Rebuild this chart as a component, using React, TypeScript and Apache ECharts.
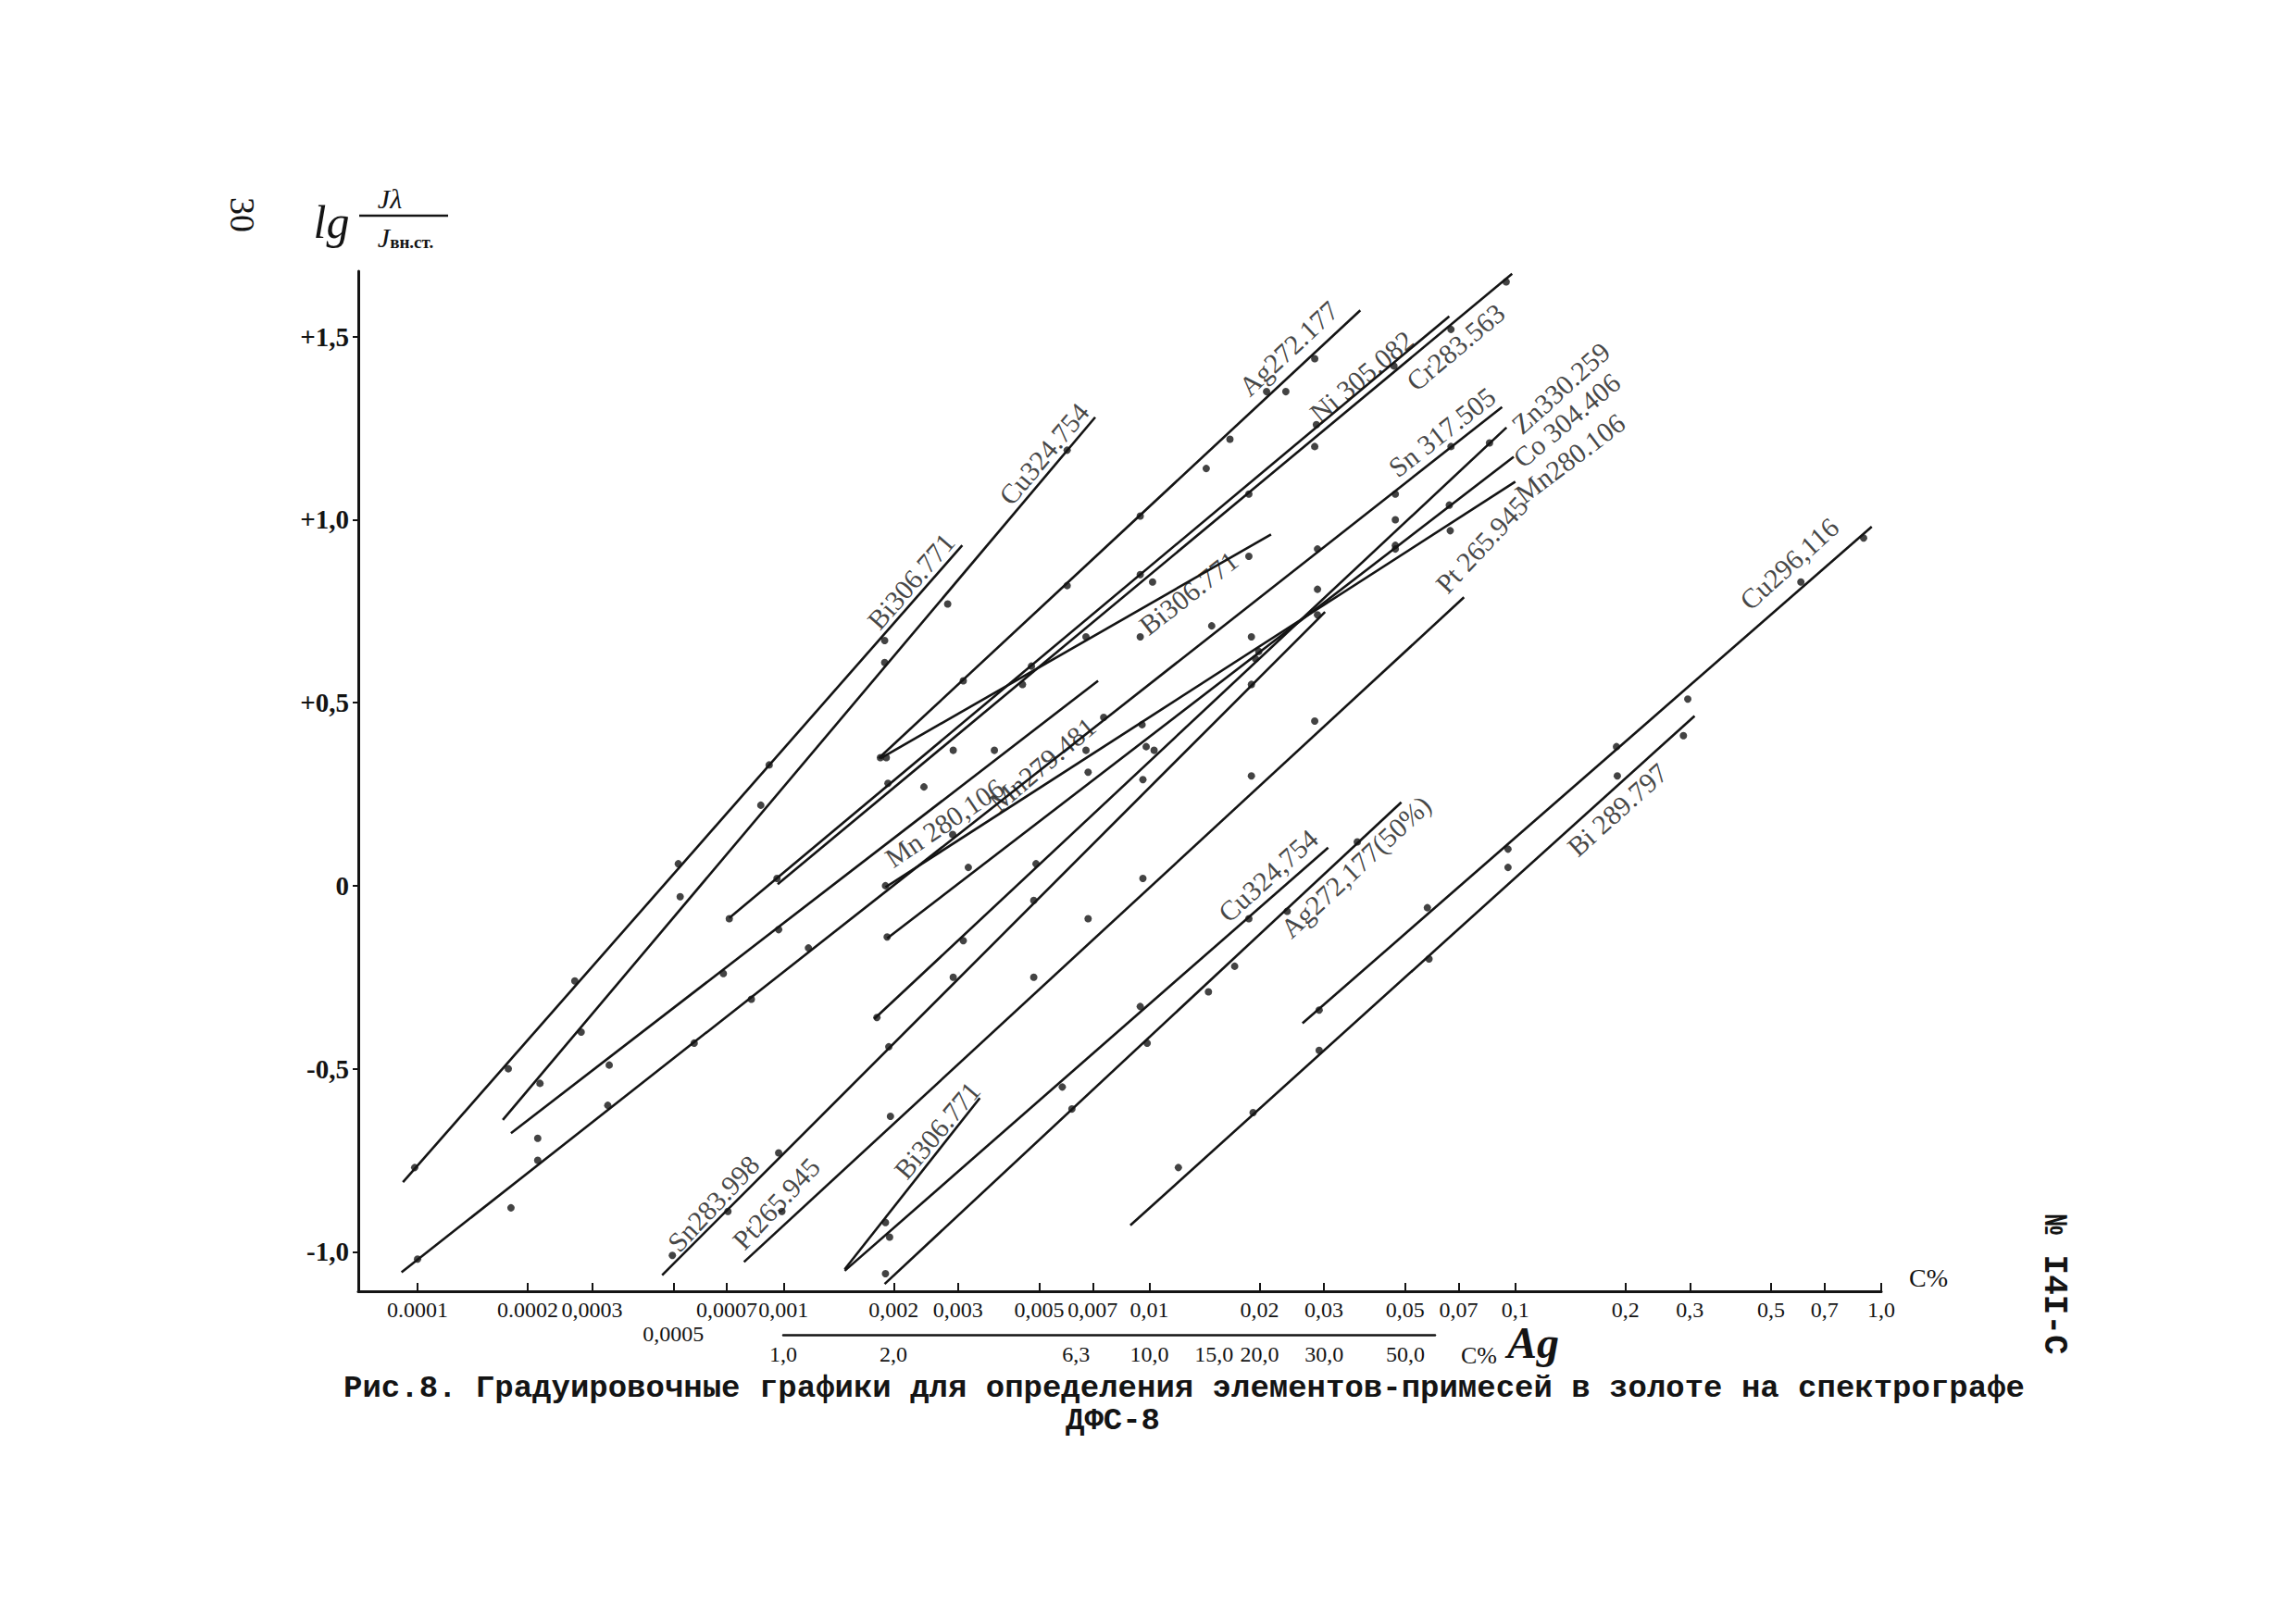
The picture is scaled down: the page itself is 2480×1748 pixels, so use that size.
import React, { useEffect, useRef } from "react";
import * as echarts from "echarts";

// ---- axes ----
const xTickValues = [0.0001, 0.0002, 0.0003, 0.0005, 0.0007, 0.001, 0.002, 0.003, 0.005, 0.007, 0.01, 0.02, 0.03, 0.05, 0.07, 0.1, 0.2, 0.3, 0.5, 0.7, 1.0];
const xTickLabels = ["0.0001", "0.0002", "0,0003", "0,0005", "0,0007", "0,001", "0,002", "0,003", "0,005", "0,007", "0,01", "0,02", "0,03", "0,05", "0,07", "0,1", "0,2", "0,3", "0,5", "0,7", "1,0"];
const yTickValues = [-1, -0.5, 0, 0.5, 1, 1.5];
const yTickLabels = ["-1,0", "-0,5", "0", "+0,5", "+1,0", "+1,5"];
const agTickValues = [1.0, 2.0, 6.3, 10.0, 15.0, 20.0, 30.0, 50.0];
const agTickLabels = ["1,0", "2,0", "6,3", "10,0", "15,0", "20,0", "30,0", "50,0"];

// ---- calibration lines: [C%, lg(Jλ/Jвн.ст.)] ----
const bi306TopLine = [[0.0000912, -0.81], [0.00308, 0.93]];
const bi306TopPoints = [[0.0000982, -0.77], [0.000177, -0.5], [0.000269, -0.26], [0.000516, 0.06], [0.000914, 0.33], [0.00189, 0.67]];
const cu324TopLine = [[0.000171, -0.64], [0.00711, 1.28]];
const cu324TopPoints = [[0.000216, -0.54], [0.00028, -0.4], [0.000867, 0.22], [0.00189, 0.61], [0.00281, 0.77], [0.00596, 1.19]];
const sn317Line = [[0.0000904, -1.056], [0.092, 1.308]];
const sn317Points = [[0.0001, -1.02], [0.000213, -0.75], [0.000331, -0.6], [0.00057, -0.43], [0.000817, -0.31], [0.00117, -0.17], [0.0029, 0.14], [0.0075, 0.46], [0.0148, 0.71], [0.0288, 0.92], [0.047, 1.07], [0.0667, 1.2]];
const mn279Line = [[0.00018, -0.676], [0.00724, 0.56]];
const mn279Points = [[0.000213, -0.69], [0.000334, -0.49], [0.000685, -0.24], [0.00097, -0.12], [0.00242, 0.27], [0.00377, 0.37]];
const ni305Line = [[0.000711, -0.088], [0.066, 1.556]];
const ni305Points = [[0.000711, -0.09], [0.00193, 0.28], [0.00476, 0.6], [0.00944, 0.85], [0.0187, 1.07], [0.0286, 1.26], [0.0466, 1.42]];
const cr283Line = [[0.000964, 0.004], [0.098, 1.672]];
const cr283Points = [[0.00096, 0.02], [0.00291, 0.37], [0.00671, 0.68], [0.0102, 0.83], [0.0667, 1.52], [0.0944, 1.65]];
const ag272Line = [[0.00182, 0.348], [0.0377, 1.572]];
const ag272Points = [[0.00191, 0.35], [0.0031, 0.56], [0.00596, 0.82], [0.00944, 1.01], [0.0143, 1.14], [0.0166, 1.22], [0.0209, 1.35], [0.0283, 1.44]];
const bi306MidLine = [[0.00184, 0.348], [0.0215, 0.96]];
const bi306MidPoints = [[0.00184, 0.35], [0.0045, 0.55], [0.00944, 0.68], [0.0187, 0.9]];
const mn280Line = [[0.0019, -0.004], [0.1, 1.104]];
const mn280Points = [[0.0019, 0.0], [0.00671, 0.37], [0.00955, 0.44], [0.019, 0.68], [0.0288, 0.74], [0.047, 0.92], [0.0664, 0.97]];
const co304Line = [[0.00192, -0.144], [0.099, 1.172]];
const co304Points = [[0.00192, -0.14], [0.0032, 0.05], [0.0068, 0.31], [0.0098, 0.38], [0.0195, 0.62], [0.047, 0.93], [0.066, 1.04]];
const zn330Line = [[0.00177, -0.364], [0.0946, 1.252]];
const zn330Points = [[0.0018, -0.36], [0.0031, -0.15], [0.0049, 0.06], [0.0103, 0.37], [0.0199, 0.64], [0.0288, 0.81], [0.047, 1.0], [0.085, 1.21]];
const sn283Line = [[0.000466, -1.064], [0.0302, 0.748]];
const sn283Points = [[0.000497, -1.01], [0.000705, -0.89], [0.00097, -0.73], [0.00194, -0.44], [0.00291, -0.25], [0.00483, -0.04], [0.0096, 0.29], [0.019, 0.55]];
const pt265Line = [[0.00078, -1.028], [0.0724, 0.788]];
const pt265Points = [[0.00099, -0.89], [0.00196, -0.63], [0.00483, -0.25], [0.0068, -0.09], [0.0096, 0.02], [0.019, 0.3], [0.0283, 0.45]];
const bi306LowLine = [[0.00147, -1.048], [0.00344, -0.58]];
const bi306LowPoints = [[0.0019, -0.92]];
const cu324LowLine = [[0.00147, -1.052], [0.0308, 0.104]];
const cu324LowPoints = [[0.00195, -0.96], [0.00578, -0.55], [0.00944, -0.33], [0.0187, -0.09]];
const ag272x50Line = [[0.00189, -1.088], [0.0488, 0.228]];
const ag272x50Points = [[0.0019, -1.06], [0.00614, -0.61], [0.00986, -0.43], [0.0145, -0.29], [0.0171, -0.22], [0.0238, -0.07], [0.037, 0.12]];
const cu296Line = [[0.0262, -0.376], [0.942, 0.981]];
const cu296Points = [[0.0291, -0.34], [0.0575, -0.06], [0.0955, 0.1], [0.189, 0.38], [0.296, 0.51], [0.603, 0.83], [0.895, 0.95]];
const bi289Line = [[0.00887, -0.928], [0.309, 0.464]];
const bi289Points = [[0.012, -0.77], [0.0192, -0.62], [0.0291, -0.45], [0.0581, -0.2], [0.0955, 0.05], [0.19, 0.3], [0.288, 0.41]];
const strayPoints = [[0.000522, -0.03], [0.00018, -0.88], [0.0283, 1.2], [0.0236, 1.35]];

// line names and where their names are written (C%, lg value, angle)
const lineLabels = [
  { text: "Bi306.771", c: 0.00223, y: 0.832, a: 49 },
  { text: "Cu324.754", c: 0.00515, y: 1.18, a: 50 },
  { text: "Ag272.177", c: 0.024, y: 1.468, a: 43 },
  { text: "Ni 305.082", c: 0.038, y: 1.392, a: 40 },
  { text: "Cr283.563", c: 0.0686, y: 1.472, a: 40 },
  { text: "Sn 317.505", c: 0.063, y: 1.24, a: 38 },
  { text: "Zn330.259", c: 0.133, y: 1.36, a: 42 },
  { text: "Co 304.406", c: 0.138, y: 1.272, a: 40 },
  { text: "Mn280.106", c: 0.141, y: 1.168, a: 37 },
  { text: "Pt 265.945", c: 0.0809, y: 0.932, a: 47 },
  { text: "Bi306.771", c: 0.0128, y: 0.8, a: 38 },
  { text: "Mn279.481", c: 0.0051, y: 0.332, a: 40 },
  { text: "Mn 280,106", c: 0.00275, y: 0.172, a: 34 },
  { text: "Sn283.998", c: 0.000643, y: -0.868, a: 47 },
  { text: "Pt265.945", c: 0.000955, y: -0.868, a: 47 },
  { text: "Bi306.771", c: 0.00263, y: -0.668, a: 50 },
  { text: "Cu324,754", c: 0.0211, y: 0.028, a: 42 },
  { text: "Ag272,177(50%)", c: 0.0366, y: 0.052, a: 43 },
  { text: "Cu296,116", c: 0.56, y: 0.88, a: 42 },
  { text: "Bi 289.797", c: 0.19, y: 0.208, a: 42 },
];

const calibrations = [
  { line: bi306TopLine, points: bi306TopPoints },
  { line: cu324TopLine, points: cu324TopPoints },
  { line: sn317Line, points: sn317Points },
  { line: mn279Line, points: mn279Points },
  { line: ni305Line, points: ni305Points },
  { line: cr283Line, points: cr283Points },
  { line: ag272Line, points: ag272Points },
  { line: bi306MidLine, points: bi306MidPoints },
  { line: mn280Line, points: mn280Points },
  { line: co304Line, points: co304Points },
  { line: zn330Line, points: zn330Points },
  { line: sn283Line, points: sn283Points },
  { line: pt265Line, points: pt265Points },
  { line: bi306LowLine, points: bi306LowPoints },
  { line: cu324LowLine, points: cu324LowPoints },
  { line: ag272x50Line, points: ag272x50Points },
  { line: cu296Line, points: cu296Points },
  { line: bi289Line, points: bi289Points },
];

const INK = "#141414";
const SERIF = "'Liberation Serif', 'DejaVu Serif', serif";
const MONO = "'Liberation Mono', 'DejaVu Sans Mono', monospace";

function nearestLabel(values: number[], labels: string[], v: number) {
  let best = 0;
  for (let i = 1; i < values.length; i++) {
    if (Math.abs(values[i] - v) < Math.abs(values[best] - v)) best = i;
  }
  return labels[best];
}

export default function App() {
  const ref = useRef<HTMLDivElement>(null);
  useEffect(() => {
    if (!ref.current) return;
    const chart = echarts.init(ref.current, null, { renderer: "svg" });
    const lg = (c: number) => Math.log10(c);
    const toXY = (arr: number[][]) => arr.map(([c, y]) => [lg(c), y]);
    const xLog = xTickValues.map(lg);
    const agLog = agTickValues.map(lg);

    const lineSeries = calibrations.map((cal, i) => ({
      type: "line",
      name: "cal" + i,
      xAxisIndex: 0,
      yAxisIndex: 0,
      data: toXY(cal.line),
      showSymbol: false,
      symbol: "none",
      silent: true,
      lineStyle: { color: INK, width: 2.6 },
      z: 2,
    }));

    const allPoints: number[][] = [];
    calibrations.forEach((cal) => cal.points.forEach((p) => allPoints.push(p)));
    strayPoints.forEach((p) => allPoints.push(p));

    const option: any = {
      animation: false,
      backgroundColor: "#ffffff",
      grid: [
        { left: 387, right: 448, top: 293, bottom: 353, outerBoundsMode: "none" },
        { left: 846, right: 930, top: 1420, bottom: 306, outerBoundsMode: "none" },
      ],
      xAxis: [
        {
          gridIndex: 0,
          type: "value",
          min: -4.162,
          max: 0,
          axisLine: { show: true, onZero: false, lineStyle: { color: INK, width: 3 } },
          axisTick: { show: true, customValues: xLog, inside: true, length: 9, lineStyle: { color: INK, width: 2 } },
          splitLine: { show: false },
          axisLabel: {
            customValues: xLog,
            formatter: (v: number) => {
              const t = nearestLabel(xLog, xTickLabels, v);
              return t === "0,0005" ? "\n" + t : t;
            },
            color: INK,
            fontSize: 24,
            lineHeight: 26,
            fontFamily: SERIF,
            margin: 7,
            hideOverlap: false,
          },
        },
        {
          gridIndex: 1,
          type: "value",
          min: 0,
          max: 1.78,
          axisLine: { show: true, onZero: false, lineStyle: { color: INK, width: 2.5 } },
          axisTick: { show: false },
          splitLine: { show: false },
          axisLabel: {
            customValues: agLog,
            formatter: (v: number) => nearestLabel(agLog, agTickLabels, v),
            color: INK,
            fontSize: 24,
            fontFamily: SERIF,
            margin: 9,
            hideOverlap: false,
          },
        },
      ],
      yAxis: [
        {
          gridIndex: 0,
          type: "value",
          min: -1.108,
          max: 1.679,
          axisLine: { show: true, onZero: false, lineStyle: { color: INK, width: 3 } },
          axisTick: { show: true, customValues: yTickValues, length: 6, lineStyle: { color: INK, width: 2 } },
          splitLine: { show: false },
          axisLabel: {
            customValues: yTickValues,
            formatter: (v: number) => nearestLabel(yTickValues, yTickLabels, v),
            color: INK,
            fontSize: 29,
            fontWeight: "bold",
            fontFamily: SERIF,
            margin: 10,
          },
        },
        { gridIndex: 1, type: "value", show: false, min: 0, max: 1 },
      ],
      series: [
        ...lineSeries,
        {
          type: "scatter",
          name: "points",
          xAxisIndex: 0,
          yAxisIndex: 0,
          data: toXY(allPoints),
          symbol: "circle",
          symbolSize: 8,
          itemStyle: { color: INK },
          silent: true,
          z: 3,
        },
        {
          type: "scatter",
          name: "labels",
          xAxisIndex: 0,
          yAxisIndex: 0,
          symbolSize: 0,
          silent: true,
          z: 4,
          data: lineLabels.map((l) => ({
            value: [lg(l.c), l.y],
            label: {
              show: true,
              formatter: l.text,
              rotate: l.a,
              position: "inside",
              color: INK,
              fontSize: 30,
              fontFamily: SERIF,
            },
          })),
        },
      ],
      graphic: [
        {
          type: "text",
          x: 262,
          y: 232,
          rotation: -Math.PI / 2,
          style: { text: "30", fill: INK, fontSize: 38, fontFamily: SERIF, align: "center", verticalAlign: "middle" },
        },
        {
          type: "text",
          x: 358,
          y: 240,
          style: { text: "lg", fill: INK, fontSize: 50, fontStyle: "italic", fontFamily: SERIF, align: "center", verticalAlign: "middle" },
        },
        {
          type: "text",
          x: 421,
          y: 214,
          style: { text: "Jλ", fill: INK, fontSize: 30, fontStyle: "italic", fontFamily: SERIF, align: "center", verticalAlign: "middle" },
        },
        { type: "line", shape: { x1: 388, y1: 233, x2: 484, y2: 233 }, style: { stroke: INK, lineWidth: 2.5 } },
        {
          type: "text",
          x: 438,
          y: 256,
          style: {
            text: "{a|J}{b|вн.ст.}",
            fill: INK,
            align: "center",
            verticalAlign: "middle",
            rich: {
              a: { fontSize: 30, fontStyle: "italic", fontFamily: SERIF, fill: INK },
              b: { fontSize: 19, fontWeight: "bold", fontFamily: SERIF, fill: INK, padding: [10, 0, 0, 0] },
            },
          },
        },
        {
          type: "text",
          x: 2062,
          y: 1380,
          style: { text: "C%", fill: INK, fontSize: 28, fontFamily: SERIF, align: "left", verticalAlign: "middle" },
        },
        {
          type: "text",
          x: 1578,
          y: 1464,
          style: { text: "C%", fill: INK, fontSize: 26, fontFamily: SERIF, align: "left", verticalAlign: "middle" },
        },
        {
          type: "text",
          x: 1628,
          y: 1450,
          style: { text: "Ag", fill: INK, fontSize: 48, fontStyle: "italic", fontWeight: "bold", fontFamily: SERIF, align: "left", verticalAlign: "middle" },
        },
        {
          type: "text",
          x: 1279,
          y: 1500,
          style: {
            text: "Рис.8. Градуировочные графики для определения элементов-примесей в золоте на спектрографе",
            fill: INK,
            fontSize: 34,
            fontWeight: "bold",
            fontFamily: MONO,
            align: "center",
            verticalAlign: "middle",
          },
        },
        {
          type: "text",
          x: 1202,
          y: 1535,
          style: { text: "ДФС-8", fill: INK, fontSize: 34, fontWeight: "bold", fontFamily: MONO, align: "center", verticalAlign: "middle" },
        },
        {
          type: "text",
          x: 2218,
          y: 1388,
          rotation: -Math.PI / 2,
          style: { text: "№ I4I-C", fill: INK, fontSize: 36, fontWeight: "bold", fontFamily: MONO, align: "center", verticalAlign: "middle" },
        },
      ],
    };
    chart.setOption(option);
    return () => chart.dispose();
  }, []);
  return <div ref={ref} style={{ position: "absolute", left: 0, top: 0, width: 2480, height: 1748, background: "#ffffff" }} />;
}
